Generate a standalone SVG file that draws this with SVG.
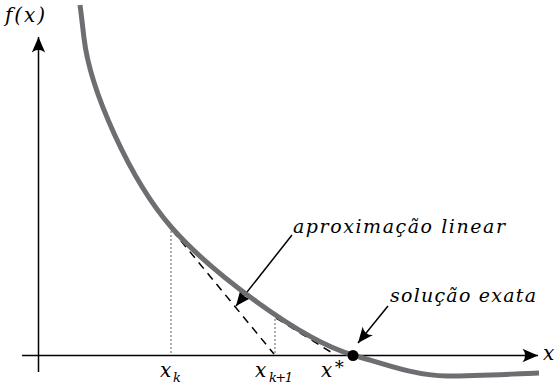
<svg xmlns="http://www.w3.org/2000/svg" width="559" height="384" viewBox="0 0 559 384">
<defs>
<marker id="ah" markerUnits="userSpaceOnUse" markerWidth="20" markerHeight="20" refX="0" refY="0" viewBox="-16 -8 18 16" orient="auto" overflow="visible">
<path d="M0,0 L-14,-6 Q-9,0 -14,6 Z" fill="#000"/>
</marker>
</defs>
<style>
text{font-family:'DejaVu Serif',serif;font-style:italic;fill:#000}
.ax{stroke:#000;stroke-width:1.5;fill:none}
.dot{stroke:#777;stroke-width:1.2;stroke-dasharray:2,2;fill:none}
.dash{stroke:#000;stroke-width:1.5;stroke-dasharray:8,6;fill:none}
.arr{stroke:#000;stroke-width:1.5;fill:none}
</style>
<g id="axes">
<line class="ax" x1="38.5" y1="372" x2="38.5" y2="37" marker-end="url(#ah)"/>
<line class="ax" x1="22" y1="355.5" x2="538" y2="355.5" marker-end="url(#ah)"/>
</g>
<g id="connectors">
<line class="dot" x1="171" y1="231" x2="171" y2="355"/>
<line class="dot" x1="275" y1="319" x2="275" y2="355"/>
<line class="dash" x1="172" y1="230" x2="274" y2="354"/>
<line class="dash" x1="276" y1="318" x2="334" y2="354"/>
<line class="arr" x1="292" y1="235" x2="236" y2="306" marker-end="url(#ah)"/>
<line class="arr" x1="388" y1="306" x2="358" y2="343" marker-end="url(#ah)"/>
</g>
<g id="curve">
<path d="M80,5 C82,20 83,30 84,38 C90,90 130,180 172,228 C210,271 300,340 353,355 C380,362.6 415,376 447,376 C480,376 510,374 539,373" fill="none" stroke="#6d6e71" stroke-width="5"/>
</g>
<g id="solution">
<circle cx="353" cy="355.5" r="5.5" fill="#000"/>
</g>
<g id="labels">
<text x="5" y="22" font-size="20" textLength="40">f(x)</text>
<text x="543" y="360" font-size="20">x</text>
<text x="160" y="377" font-size="20">x</text>
<text x="173" y="382" font-size="13">k</text>
<text x="255" y="377" font-size="20">x</text>
<text x="269" y="382" font-size="13" textLength="24">k+1</text>
<text x="321" y="377" font-size="20">x</text>
<text x="333" y="370" font-size="18" font-style="normal">∗</text>
<text x="293" y="233" font-size="19" textLength="212">aproximação linear</text>
<text x="390" y="302" font-size="19" textLength="146">solução exata</text>
</g>
</svg>
